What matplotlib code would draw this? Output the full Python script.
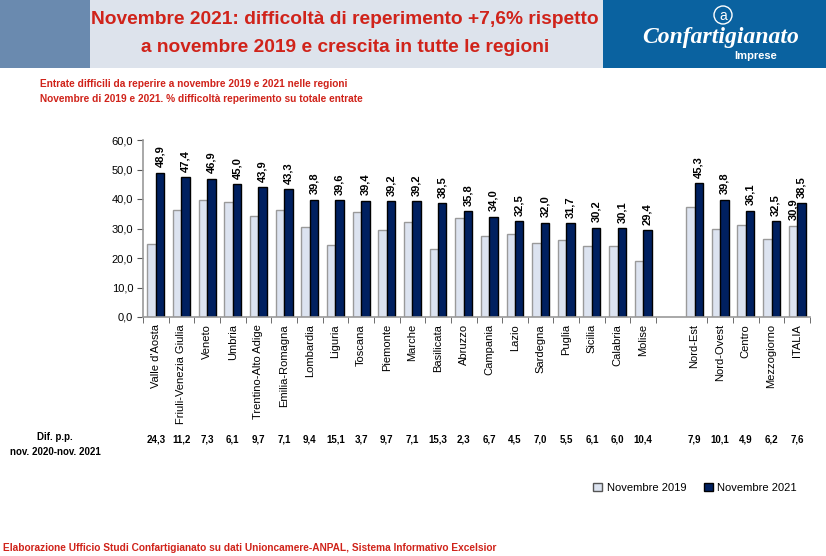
import numpy as np
import matplotlib.pyplot as plt
import matplotlib.transforms as mtransforms
from matplotlib.patches import Rectangle, Patch, Ellipse

# data
regions = ["Valle d'Aosta", "Friuli-Venezia Giulia", "Veneto", "Umbria", "Trentino-Alto Adige",
           "Emilia-Romagna", "Lombardia", "Liguria", "Toscana", "Piemonte", "Marche", "Basilicata",
           "Abruzzo", "Campania", "Lazio", "Sardegna", "Puglia", "Sicilia", "Calabria", "Molise"]
areas = ["Nord-Est", "Nord-Ovest", "Centro", "Mezzogiorno", "ITALIA"]

nov2021_reg = [48.9, 47.4, 46.9, 45.0, 43.9, 43.3, 39.8, 39.6, 39.4, 39.2, 39.2, 38.5,
               35.8, 34.0, 32.5, 32.0, 31.7, 30.2, 30.1, 29.4]
nov2019_reg = [24.6, 36.2, 39.6, 38.9, 34.2, 36.2, 30.4, 24.5, 35.7, 29.5, 32.1, 23.2,
               33.5, 27.3, 28.0, 25.0, 26.2, 24.1, 24.1, 19.0]
dif_reg = [24.3, 11.2, 7.3, 6.1, 9.7, 7.1, 9.4, 15.1, 3.7, 9.7, 7.1, 15.3,
           2.3, 6.7, 4.5, 7.0, 5.5, 6.1, 6.0, 10.4]

nov2021_area = [45.3, 39.8, 36.1, 32.5, 38.5]
nov2019_area = [37.4, 29.7, 31.2, 26.3, 30.9]
dif_area = [7.9, 10.1, 4.9, 6.2, 7.6]

RED = '#d0231a'
LIGHT = '#dce3f0'
DARK = '#002060'
plt.rcParams['font.family'] = ['Liberation Sans', 'DejaVu Sans']


def fmt(v):
    return f"{v:.1f}".replace('.', ',')


labels = regions + [""] + areas
v19 = nov2019_reg + [np.nan] + nov2019_area
v21 = nov2021_reg + [np.nan] + nov2021_area
difs = dif_reg + [None] + dif_area
x = np.arange(len(labels))

fig = plt.figure(figsize=(8.26, 5.56), dpi=100)

# header band
fig.patches.append(Rectangle((0, 1 - 68 / 556), 90 / 826, 68 / 556, transform=fig.transFigure,
                             facecolor='#6a8aaf', edgecolor='none'))
fig.patches.append(Rectangle((90 / 826, 1 - 68 / 556), 513 / 826, 68 / 556, transform=fig.transFigure,
                             facecolor='#dde3ec', edgecolor='none'))
fig.patches.append(Rectangle((603 / 826, 1 - 68 / 556), 223 / 826, 68 / 556, transform=fig.transFigure,
                             facecolor='#0a62a0', edgecolor='none'))
fig.text(345 / 826, 1 - 20 / 556, "Novembre 2021: difficoltà di reperimento +7,6% rispetto",
         color=RED, fontsize=13.8, fontweight='bold', ha='center', va='center')
fig.text(345 / 826, 1 - 47 / 556, "a novembre 2019 e crescita in tutte le regioni",
         color=RED, fontsize=13.8, fontweight='bold', ha='center', va='center')
# logo
fig.patches.append(Ellipse((723 / 826, 1 - 15 / 556), 18 / 826, 18 / 556, transform=fig.transFigure,
                           facecolor='none', edgecolor='white', linewidth=1))
fig.text(723 / 826, 1 - 15.5 / 556, "a", color='white', fontsize=10, ha='center', va='center')
fig.text(721 / 826, 1 - 37 / 556, "Confartigianato", color='white', fontsize=17, fontweight='bold',
         fontstyle='italic', family=['Liberation Serif', 'DejaVu Serif'], ha='center', va='center')
fig.text(756 / 826, 1 - 56 / 556, "Imprese", color='white', fontsize=8, fontweight='bold',
         ha='center', va='center')

# subtitle
fig.text(40 / 826, 1 - 84 / 556, "Entrate difficili da reperire a novembre 2019 e 2021 nelle regioni",
         color=RED, fontsize=7.3, fontweight='bold', ha='left', va='center')
fig.text(40 / 826, 1 - 99 / 556, "Novembre di 2019 e 2021. % difficoltà reperimento su totale entrate",
         color=RED, fontsize=7.3, fontweight='bold', ha='left', va='center')

ax = fig.add_axes([143 / 826, 1 - 317 / 556, 667 / 826, 177 / 556])
w = 0.33
ax.bar(x - w / 2, v19, w, color=LIGHT, edgecolor='#9a9a9a', linewidth=1)
ax.bar(x + w / 2, v21, w, color=DARK, edgecolor='black', linewidth=1)

for xi, v in zip(x, v21):
    if not np.isnan(v):
        ax.annotate(fmt(v), (xi + w / 2, v), xytext=(0, 4), textcoords='offset points',
                    rotation=90, ha='center', va='bottom', fontsize=8, fontweight='bold')
ax.annotate(fmt(nov2019_area[-1]), (x[-1] - w / 2, nov2019_area[-1]), xytext=(0, 4),
            textcoords='offset points', rotation=90, ha='center', va='bottom',
            fontsize=8, fontweight='bold')

ax.set_xlim(-0.5, len(labels) - 0.5)
ax.set_ylim(0, 60)
ax.set_yticks(np.arange(0, 61, 10))
ax.set_yticklabels([fmt(v) for v in np.arange(0, 61, 10)], fontsize=8)
ax.set_xticks(x)
ax.set_xticklabels(labels, rotation=90, fontsize=8)
ax.tick_params(axis='x', which='major', length=0, pad=5)
bounds = [b for b in np.arange(-0.5, len(labels), 1.0) if b != 20.5]
ax.set_xticks(bounds, minor=True)
ax.tick_params(axis='x', which='minor', length=4, color='#555555', direction='out')
ax.tick_params(axis='y', length=4, color='#555555', direction='out', pad=3)
for s in ['top', 'right']:
    ax.spines[s].set_visible(False)
for s in ['left', 'bottom']:
    ax.spines[s].set_color('#999999')
    ax.spines[s].set_linewidth(1.2)

# difference row
trans = mtransforms.blended_transform_factory(ax.transData, fig.transFigure)
for xi, d in zip(x, difs):
    if d is not None:
        ax.text(xi, 1 - 440 / 556, fmt(d), transform=trans, ha='center', va='center',
                fontsize=7, fontweight='bold')
fig.text(55 / 826, 1 - 437 / 556, "Dif. p.p.", fontsize=7, fontweight='bold',
         ha='center', va='center')
fig.text(55 / 826, 1 - 452 / 556, "nov. 2020-nov. 2021", fontsize=7, fontweight='bold',
         ha='center', va='center')

handles = [Patch(facecolor=LIGHT, edgecolor='#555555', label='Novembre 2019'),
           Patch(facecolor=DARK, edgecolor='black', label='Novembre 2021')]
fig.legend(handles=handles, loc='center', bbox_to_anchor=(695 / 826, 1 - 488 / 556), ncol=2,
           frameon=False, fontsize=8, handlelength=0.8, handleheight=0.8,
           handletextpad=0.4, columnspacing=1.6)

fig.text(3 / 826, 1 - 548 / 556,
         "Elaborazione Ufficio Studi Confartigianato su dati Unioncamere-ANPAL, Sistema Informativo Excelsior",
         color=RED, fontsize=7.3, fontweight='bold', ha='left', va='center')

fig.savefig('out.png', dpi=100)
